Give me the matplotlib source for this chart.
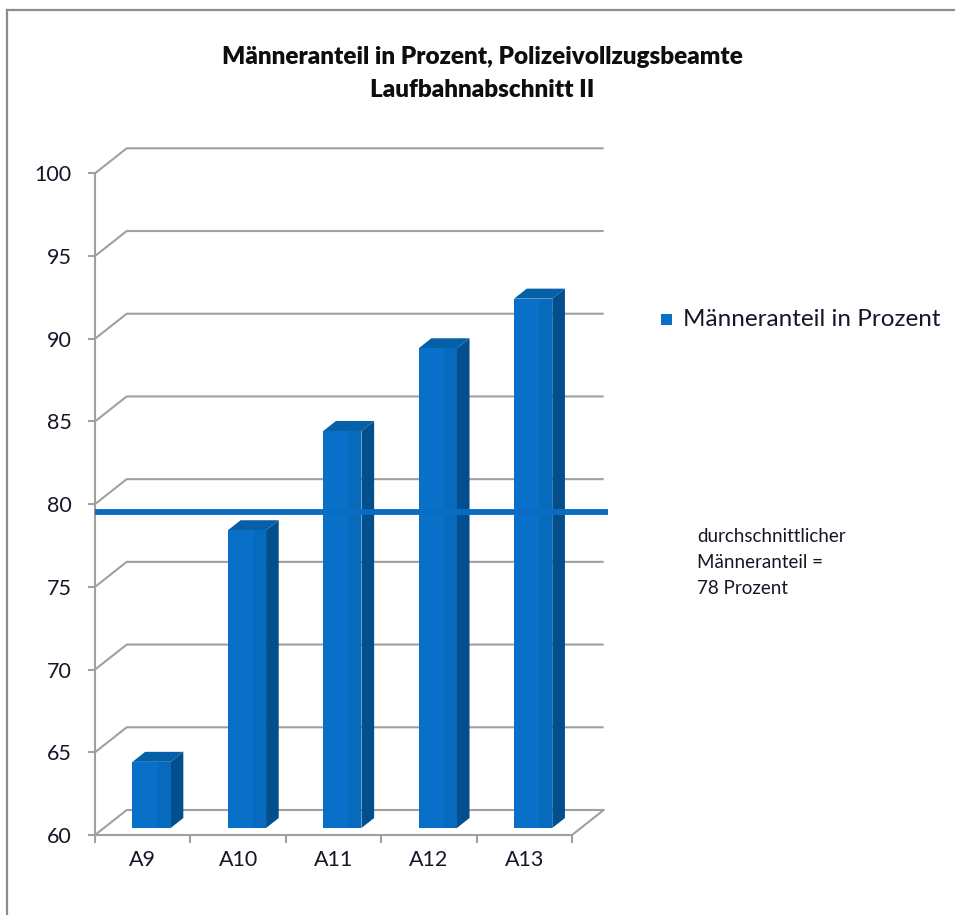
import matplotlib
matplotlib.use("Agg")
import matplotlib.pyplot as plt
from matplotlib.patches import Polygon
from matplotlib.lines import Line2D

plt.rcParams['font.family'] = ['Lato', 'DejaVu Sans']

# --- data ---
categories = ["A9", "A10", "A11", "A12", "A13"]
anteil = [64, 78, 84, 89, 92]
durchschnitt = 78
y_ticks = [60, 65, 70, 75, 80, 85, 90, 95, 100]
title_lines = ["Männeranteil in Prozent, Polizeivollzugsbeamte", "Laufbahnabschnitt II"]
series_name = "Männeranteil in Prozent"
note_lines = ["durchschnittlicher", "Männeranteil =", "78 Prozent"]

# --- styling ---
W, H = 955, 915
GRID = "#a0a0a0"
TXT = "#161628"
FRONT = "#0870c8"
FRONT_SHADE = "#066abd"
SIDE = "#034f8e"
TOP = "#0560a8"
LINE_BLUE = "#0a6cc0"

fig = plt.figure(figsize=(W / 100, H / 100), dpi=100)


def px_rect(l, t, r, b):
    return [l / W, 1 - b / H, (r - l) / W, (b - t) / H]


# front plane of the 3D box: x in category units, y in percent
ax = fig.add_axes(px_rect(95, 173.3, 572, 835))
ax.set_xlim(0, len(categories))
ax.set_ylim(y_ticks[0], y_ticks[-1])
ax.patch.set_alpha(0)

# depth offsets (full depth of the box) in data units
DX = 31.7 / (477 / len(categories))
DY = 25 / (661.7 / (y_ticks[-1] - y_ticks[0]))


def proj(x, v, d):
    return (x + d * DX, v + d * DY)


n = len(categories)
base = y_ticks[0]

# walls: gridlines on the left side and back wall
for v in y_ticks:
    xs = [0, DX, n + DX]
    ys = [v, v + DY, v + DY]
    ax.plot(xs, ys, color=GRID, lw=1.5, clip_on=False, zorder=1,
            solid_capstyle="butt")
# floor right edge
ax.plot([n, n + DX], [base, base + DY], color=GRID, lw=1.5, clip_on=False, zorder=1)

# bars
bw = 0.4
d0, d1 = 0.28, 0.68
for i, v in enumerate(anteil):
    xl = i + 0.5 - bw / 2
    xr = i + 0.5 + bw / 2
    front = [proj(xl, base, d0), proj(xr, base, d0), proj(xr, v, d0), proj(xl, v, d0)]
    shade = [proj(xl + bw * 0.65, base, d0), proj(xr, base, d0),
             proj(xr, v, d0), proj(xl + bw * 0.65, v, d0)]
    side = [proj(xr, base, d0), proj(xr, base, d1), proj(xr, v, d1), proj(xr, v, d0)]
    top = [proj(xl, v, d0), proj(xr, v, d0), proj(xr, v, d1), proj(xl, v, d1)]
    ax.add_patch(Polygon(side, closed=True, fc=SIDE, ec="none", clip_on=False, zorder=3))
    ax.add_patch(Polygon(top, closed=True, fc=TOP, ec="none", clip_on=False, zorder=3))
    ax.add_patch(Polygon(front, closed=True, fc=FRONT, ec="none", clip_on=False, zorder=4))
    ax.add_patch(Polygon(shade, closed=True, fc=FRONT_SHADE, ec="none", clip_on=False, zorder=4))

# average line on the back wall
ax.plot([0, n + DX + 0.04], [durchschnitt + DY] * 2, color=LINE_BLUE, lw=4.2,
        clip_on=False, zorder=6, solid_capstyle="butt")

# axes: front spines and ticks
for s in ["top", "right"]:
    ax.spines[s].set_visible(False)
for s in ["left", "bottom"]:
    ax.spines[s].set_color(GRID)
    ax.spines[s].set_linewidth(1.5)
    ax.spines[s].set_zorder(2)
ax.set_yticks(y_ticks)
ax.set_yticklabels([str(t) for t in y_ticks])
ax.tick_params(axis="y", direction="out", length=5, width=1.5, color=GRID,
               labelsize=15.5, labelcolor=TXT, pad=12)
ax.set_xticks(range(n + 1))
ax.set_xticklabels([""] * (n + 1))
ax.set_xticks([i + 0.5 for i in range(n)], minor=True)
ax.set_xticklabels(categories, minor=True)
ax.tick_params(axis="x", which="major", direction="out", length=6, width=1.5, color=GRID)
ax.tick_params(axis="x", which="minor", length=0, labelsize=15.5, labelcolor=TXT, pad=11)

# title
fig.text(482 / W, 1 - 57 / H, title_lines[0], ha="center", va="center",
         fontsize=17.5, fontweight="heavy", color="#0e0e0e")
fig.text(482 / W, 1 - 90 / H, title_lines[1], ha="center", va="center",
         fontsize=17.5, fontweight="heavy", color="#0e0e0e")

# legend
fig.patches.append(plt.Rectangle((661 / W, 1 - 325 / H), 11 / W, 11 / H,
                                 transform=fig.transFigure, fc=FRONT, ec="none"))
fig.text(683 / W, 1 - 319 / H, series_name, ha="left", va="center",
         fontsize=17.5, color=TXT)

# note next to the average line
for k, line in enumerate(note_lines):
    fig.text(697 / W, 1 - (537 + 26 * k) / H, line, ha="left", va="center",
             fontsize=13.5, color=TXT)

# outer frame (left and top)
fig.add_artist(Line2D([7 / W, 7 / W], [0, 1 - 10 / H], color="#8c8c8c", lw=1.6,
                      transform=fig.transFigure))
fig.add_artist(Line2D([7 / W, 1], [1 - 10 / H, 1 - 10 / H], color="#8c8c8c", lw=1.6,
                      transform=fig.transFigure))

fig.savefig("out.png", dpi=100)
